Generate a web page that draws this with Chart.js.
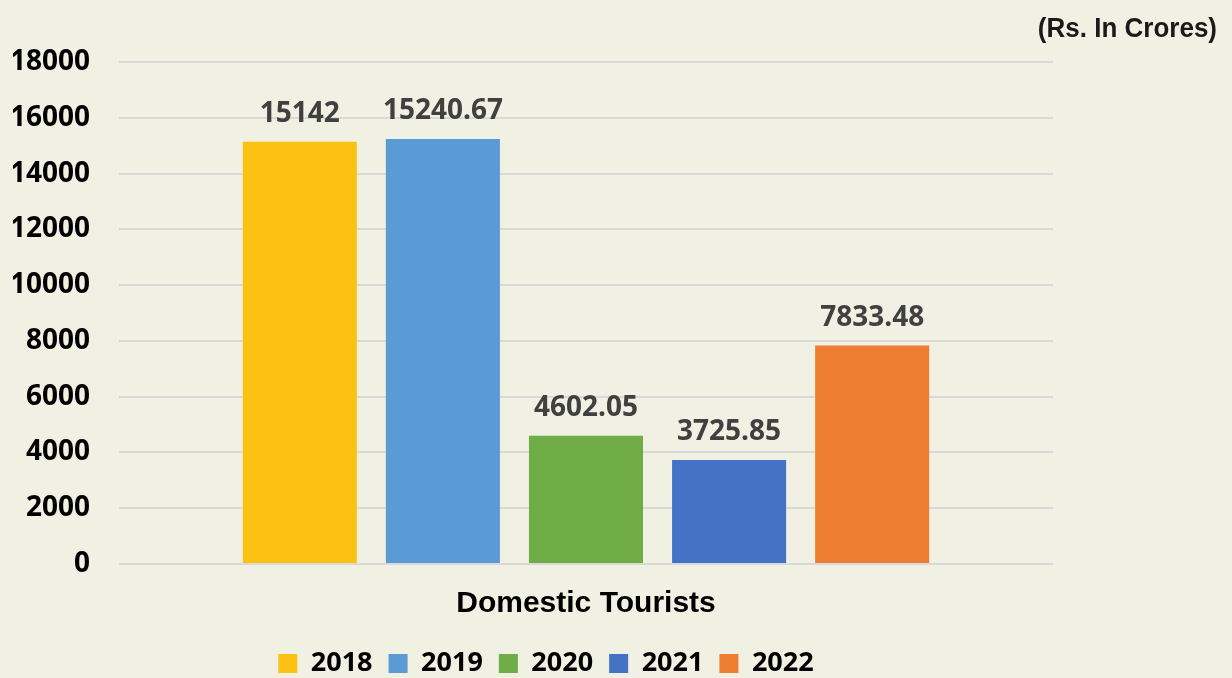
<!DOCTYPE html>
<html>
<head>
<meta charset="utf-8">
<script src="https://cdn.jsdelivr.net/npm/chart.js@4.4.0/dist/chart.umd.min.js"></script>
<style>
  html, body { margin: 0; padding: 0; background: #F0F0E3; }
  #wrap { width: 1232px; height: 678px; position: relative; }
</style>
</head>
<body>
<div id="wrap"><canvas id="myChart"></canvas></div>
<script>
let categories = ['Domestic Tourists'];
let years = ['2018', '2019', '2020', '2021', '2022'];
let values = [15142, 15240.67, 4602.05, 3725.85, 7833.48];
let valueLabels = ['15142', '15240.67', '4602.05', '3725.85', '7833.48'];
let colors = ['#FCC112', '#5B9BD5', '#70AD47', '#4472C4', '#ED7D31'];
let yTicks = [0, 2000, 4000, 6000, 8000, 10000, 12000, 14000, 16000, 18000];

// value labels over each bar
let barLabels = {
    id: 'barLabels',
    afterDatasetsDraw(chart) {
        let ctx = chart.ctx;
        ctx.save();
        ctx.font = 'bold 28px "Open Sans"';
        ctx.fillStyle = '#404040';
        ctx.textAlign = 'center';
        ctx.textBaseline = 'bottom';
        chart.data.datasets.forEach(function(ds, i) {
            chart.getDatasetMeta(i).data.forEach(function(bar) {
                ctx.fillText(valueLabels[i], bar.x, bar.y - 14);
            });
        });
        ctx.restore();
    }
};

// unit note in the top right corner
let unitNote = {
    id: 'unitNote',
    afterDraw(chart) {
        let ctx = chart.ctx;
        ctx.save();
        ctx.font = 'bold 26px "Liberation Sans"';
        ctx.fillStyle = '#1a1a1a';
        ctx.textAlign = 'right';
        ctx.textBaseline = 'middle';
        ctx.translate(1217, 29);
        ctx.scale(1, 1.05);
        ctx.fillText('(Rs. In Crores)', 0, 0);
        ctx.restore();
    }
};

// nudge the legend down/right a bit (legend always reserves 10px below itself)
let legendShift = {
    id: 'legendShift',
    afterLayout(chart) {
        chart.legend.top += 9;
        chart.legend.bottom += 9;
        chart.legend.left += 20;
        chart.legend.right += 20;
    }
};

let datasets = years.map(function(y, i) {
    return {
        label: y,
        data: [values[i]],
        backgroundColor: colors[i],
        categoryPercentage: 0.766,
        barPercentage: 0.797
    };
});

let chart = new Chart(document.getElementById('myChart').getContext('2d'), {
    type: 'bar',
    data: { labels: categories, datasets: datasets },
    options: {
        responsive: true,
        maintainAspectRatio: false,
        animation: false,
        layout: { padding: { left: 13, right: 179, top: 62, bottom: 0 } },
        scales: {
            y: {
                min: 0,
                max: 18000,
                afterBuildTicks: function(scale) {
                    scale.ticks = yTicks.map(function(v) { return { value: v }; });
                },
                afterFit: function(scale) { scale.width = 106; },
                ticks: {
                    padding: 29,
                    color: '#000',
                    font: { family: '"Open Sans"', size: 28, weight: 'bold' },
                    callback: function(v) { return String(v); }
                },
                grid: { color: '#D9D9D9', lineWidth: 2, drawTicks: false },
                border: { display: false }
            },
            x: {
                ticks: { display: false },
                title: {
                    display: true,
                    text: categories[0],
                    color: '#000',
                    padding: { top: 22, bottom: 17 },
                    font: { family: '"Liberation Sans"', size: 30, weight: 'bold' }
                },
                grid: { display: false, drawTicks: false },
                border: { display: false }
            }
        },
        plugins: {
            legend: {
                position: 'bottom',
                labels: {
                    boxWidth: 19,
                    boxHeight: 19,
                    padding: 2,
                    color: '#000',
                    font: { family: '"Open Sans"', size: 27, weight: 'bold', lineHeight: 1 },
                    generateLabels: function(chart) {
                        return Chart.defaults.plugins.legend.labels.generateLabels(chart).map(function(l) {
                            l.text = l.text + '  ';
                            return l;
                        });
                    }
                }
            },
            tooltip: { enabled: false }
        }
    },
    plugins: [barLabels, unitNote, legendShift]
});
</script>
</body>
</html>
